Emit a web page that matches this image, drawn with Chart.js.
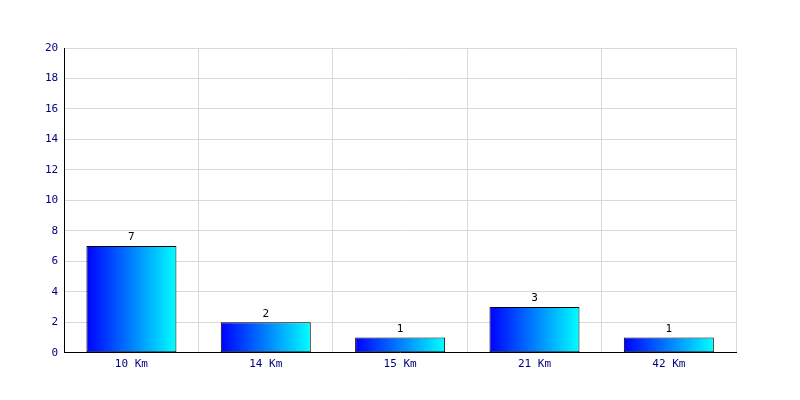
<!DOCTYPE html>
<html><head><meta charset="utf-8">
<script src="https://cdn.jsdelivr.net/npm/chart.js@4/dist/chart.umd.min.js"></script>
<style>html,body{margin:0;padding:0;background:#fff}#w{width:800px;height:400px}</style>
</head><body><div id="w"><canvas id="c" width="800" height="400"></canvas></div>
<script>
const categories = ["10 Km", "14 Km", "15 Km", "21 Km", "42 Km"];
const counts = [7, 2, 1, 3, 1];
const yTicks = [0, 2, 4, 6, 8, 10, 12, 14, 16, 18, 20];

const FONT = "'DejaVu Sans Mono', monospace";

function barGradient(ctx) {
  const chart = ctx.chart;
  const xs = chart.scales.x;
  if (!xs || !chart.chartArea || ctx.dataIndex === undefined) return '#0000ff';
  const cx = xs.getPixelForValue(ctx.dataIndex);
  const w = (xs.width / categories.length) * 0.67;
  const g = chart.ctx.createLinearGradient(cx - w / 2, 0, cx + w / 2, 0);
  g.addColorStop(0, '#0000ff');
  g.addColorStop(1, '#00ffff');
  return g;
}

const valueLabels = {
  id: 'valueLabels',
  afterDatasetsDraw(chart) {
    const c = chart.ctx;
    const meta = chart.getDatasetMeta(0);
    c.save();
    c.font = "11px " + FONT;
    c.fillStyle = '#000';
    c.textAlign = 'center';
    c.textBaseline = 'bottom';
    meta.data.forEach((el, i) => {
      c.fillText(String(counts[i]), el.x, el.y - 3);
    });
    c.restore();
  }
};

new Chart(document.getElementById('c'), {
  type: 'bar',
  data: {
    labels: categories,
    datasets: [{
      data: counts,
      backgroundColor: barGradient,
      borderColor: '#000',
      borderWidth: 1,
      borderSkipped: false,
      barPercentage: 0.67,
      categoryPercentage: 1
    }]
  },
  options: {
    responsive: false,
    animation: false,
    layout: { padding: { left: 39, right: 64, top: 48, bottom: 24 } },
    plugins: { legend: { display: false }, tooltip: { enabled: false } },
    scales: {
      x: {
        grid: { color: '#d9d9d9', drawTicks: false, offset: true },
        border: { color: '#000', width: 1 },
        ticks: { color: '#000080', font: { family: FONT, size: 11 }, padding: 5 }
      },
      y: {
        min: 0, max: 20,
        afterBuildTicks(scale) { scale.ticks = yTicks.map(v => ({ value: v })); },
        grid: { color: '#d9d9d9', drawTicks: false },
        border: { color: '#000', width: 1 },
        ticks: { color: '#000080', font: { family: FONT, size: 11 }, padding: 6 }
      }
    }
  },
  plugins: [valueLabels]
});
</script>
</body></html>
